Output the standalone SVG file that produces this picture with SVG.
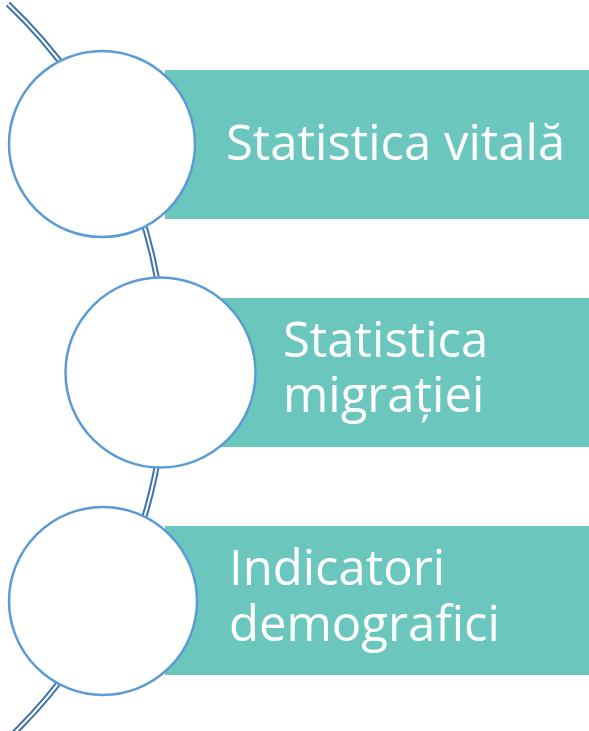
<svg xmlns="http://www.w3.org/2000/svg" width="589" height="731" viewBox="0 0 589 731">
<style>
.bar{fill:#6bc7bd}
.circ{fill:#ffffff;stroke:#5b9bd5;stroke-width:2.5}
.lbl{fill:#ffffff;font-family:"Open Sans","Liberation Sans",sans-serif;font-size:49px}
.arcOut{fill:none;stroke:#3f72a8;stroke-width:6}
.arcIn{fill:none;stroke:#ffffff;stroke-width:2}
</style>
<rect width="589" height="731" fill="#ffffff"/>
<g id="connectors">
<path class="arcOut" d="M 8,4 A 507.3 507.3 0 0 1 8,739"/>
<path class="arcIn" d="M 8,4 A 507.3 507.3 0 0 1 8,739"/>
</g>
<g id="node1">
<rect class="bar" x="165" y="70" width="424" height="149"/>
<circle class="circ" cx="102" cy="144" r="93"/>
<text class="lbl" x="226" y="160">Statistica vitală</text>
</g>
<g id="node2">
<rect class="bar" x="220" y="298" width="369" height="149"/>
<circle class="circ" cx="160.5" cy="372.5" r="95"/>
<text class="lbl" x="283" y="357">Statistica<tspan x="283" dy="55">migrației</tspan></text>
</g>
<g id="node3">
<rect class="bar" x="165" y="526" width="424" height="149"/>
<circle class="circ" cx="103" cy="601" r="94"/>
<text class="lbl" x="229" y="585">Indicatori<tspan x="229" dy="56">demografici</tspan></text>
</g>
</svg>
